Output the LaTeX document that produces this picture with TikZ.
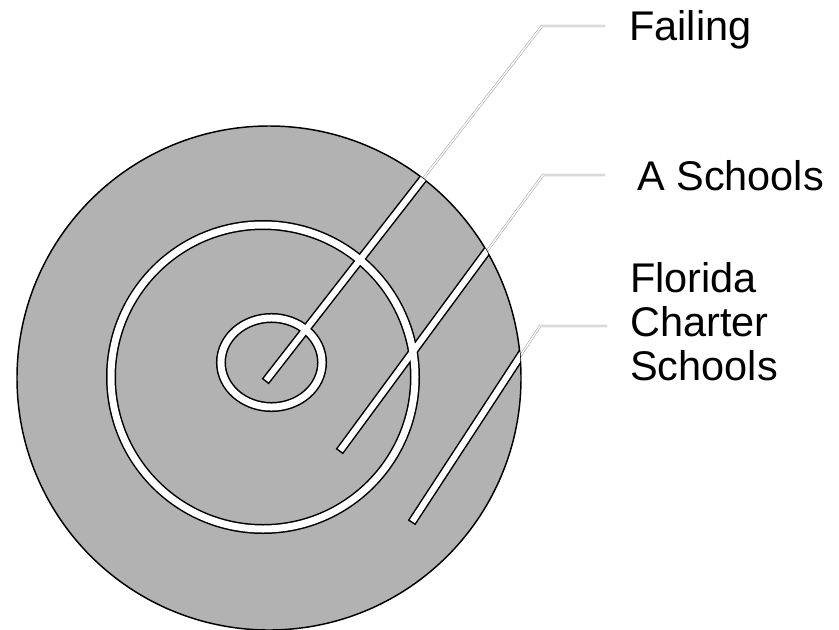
\documentclass[tikz,border=0pt]{standalone}
\usepackage{fontspec}
\setmainfont{Liberation Sans}
\definecolor{discgray}{RGB}{178,178,178}
\definecolor{leadgray}{RGB}{150,150,150}
\begin{document}
\begin{tikzpicture}[x=0.75pt,y=-0.75pt,
  lbl/.style={inner sep=0pt, font=\fontsize{31.1pt}{33pt}\selectfont, align=left},
  ringedge/.style={draw=black, line width=7.5pt},
  ringfill/.style={draw=white, line width=5.25pt},
  leadedge/.style={draw=black, line width=6.75pt, line cap=rect},
  leadfill/.style={draw=white, line width=4.5pt, line cap=rect},
  leadout/.style={draw=leadgray, line width=0.35pt, double=white, double distance=1.1pt}]
\useasboundingbox (0,0) rectangle (839,629);
% centres
\coordinate (O) at (269,378);
\coordinate (M) at (263,377);
\coordinate (S) at (271.5,362.5);
% leader points
\coordinate (e1) at (268,378);
\coordinate (c1) at (542,26);
\coordinate (h1) at (605,26);
\coordinate (e2) at (342,448);
\coordinate (c2) at (543,175);
\coordinate (h2) at (605,175);
\coordinate (e3) at (414,519);
\coordinate (c3) at (540,326);
\coordinate (h3) at (607,326);
% labels
\node[lbl, anchor=base west] (failing) at (629,40) {Failing};
\node[lbl, anchor=base west] (aschools) at (637,190) {A Schools};
\node[lbl, anchor=north west] (florida) at (630,262) {Florida\\Charter\\Schools};
% thin outer leaders
\draw[leadout] (e1) -- (c1) -- (h1);
\draw[leadout] (e2) -- (c2) -- (h2);
\draw[leadout] (e3) -- (c3) -- (h3);
% disc
\fill[discgray] (O) circle[radius=189pt];
\draw[black, line width=1.1pt] (O) circle[radius=189pt];
\begin{scope}
  \clip (O) circle[radius=189pt];
  \draw[ringedge] (M) circle[radius=114pt];
  \draw[ringedge] (S) ellipse[x radius=37.9pt, y radius=33.4pt];
  \draw[leadedge] (e1) -- (c1);
  \draw[leadedge] (e2) -- (c2);
  \draw[leadedge] (e3) -- (c3);
  \draw[ringfill] (M) circle[radius=114pt];
  \draw[ringfill] (S) ellipse[x radius=37.9pt, y radius=33.4pt];
  \draw[leadfill] (e1) -- (c1);
  \draw[leadfill] (e2) -- (c2);
  \draw[leadfill] (e3) -- (c3);
\end{scope}
\end{tikzpicture}
\end{document}
